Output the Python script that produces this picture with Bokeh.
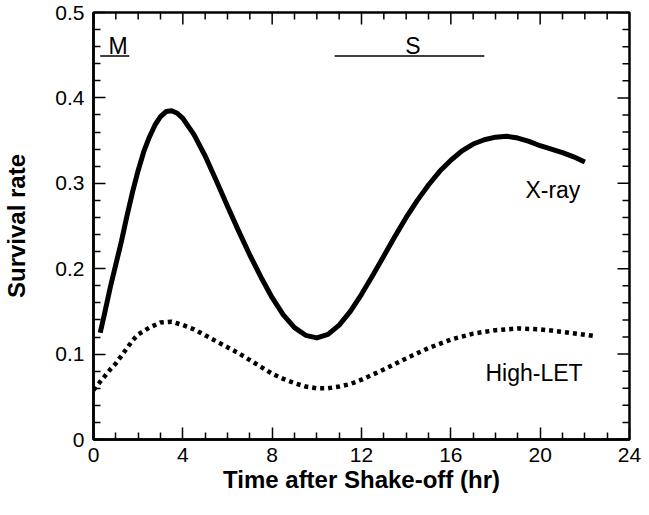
import math
from bokeh.plotting import figure
from bokeh.models import FixedTicker, Range1d
from bokeh.core.properties import value
from bokeh.embed import file_html
from bokeh.resources import INLINE

# ---- data ----
time_xray = [0.3, 0.5, 0.75, 1.0, 1.25, 1.5, 1.75, 2.0, 2.25, 2.5, 2.75, 3.0, 3.25, 3.5,
             3.75, 4.0, 4.5, 5.0, 5.5, 6.0, 6.5, 7.0, 7.5, 8.0, 8.5, 9.0, 9.5, 10.0,
             10.5, 11.0, 11.5, 12.0, 12.5, 13.0, 13.5, 14.0, 14.5, 15.0, 15.5, 16.0,
             16.5, 17.0, 17.5, 18.0, 18.5, 19.0, 19.5, 20.0, 20.5, 21.0, 21.5, 22.0]
surv_xray = [0.125, 0.148, 0.178, 0.205, 0.232, 0.262, 0.290, 0.315, 0.337, 0.354, 0.368,
             0.378, 0.384, 0.385, 0.382, 0.376, 0.357, 0.332, 0.303, 0.273, 0.244, 0.216,
             0.190, 0.166, 0.146, 0.131, 0.122, 0.119, 0.123, 0.134, 0.150, 0.170, 0.192,
             0.215, 0.238, 0.260, 0.280, 0.298, 0.314, 0.327, 0.338, 0.346, 0.351, 0.354,
             0.355, 0.353, 0.349, 0.344, 0.340, 0.336, 0.331, 0.325]

time_let = [0.0, 0.25, 0.5, 0.75, 1.0, 1.25, 1.5, 1.75, 2.0, 2.5, 3.0, 3.5, 4.0, 4.5, 5.0,
            5.5, 6.0, 6.5, 7.0, 7.5, 8.0, 8.5, 9.0, 9.5, 10.0, 10.5, 11.0, 11.5, 12.0,
            13.0, 14.0, 15.0, 16.0, 17.0, 18.0, 19.0, 20.0, 21.0, 22.5]
surv_let = [0.058, 0.066, 0.074, 0.082, 0.089, 0.098, 0.107, 0.116, 0.123, 0.131, 0.137,
            0.138, 0.134, 0.129, 0.122, 0.115, 0.108, 0.101, 0.093, 0.085, 0.077, 0.071,
            0.066, 0.062, 0.060, 0.060, 0.062, 0.065, 0.070, 0.082, 0.095, 0.107, 0.117,
            0.124, 0.128, 0.130, 0.129, 0.126, 0.121]

x_min, x_max = 0, 24
y_min, y_max = 0, 0.5
x_ticks = [0, 4, 8, 12, 16, 20, 24]
x_tick_labels = ["0", "4", "8", "12", "16", "20", "24"]
x_minor_ticks = [1, 2, 3, 5, 6, 7, 9, 10, 11, 13, 14, 15, 17, 18, 19, 21, 22, 23]
y_ticks = [0, 0.1, 0.2, 0.3, 0.4, 0.5]
y_tick_labels = ["0", "0.1", "0.2", "0.3", "0.4", "0.5"]
y_minor_ticks = [0.02, 0.04, 0.06, 0.08, 0.12, 0.14, 0.16, 0.18, 0.22, 0.24, 0.26, 0.28,
                 0.32, 0.34, 0.36, 0.38, 0.42, 0.44, 0.46, 0.48]

phase_names = ["M", "S"]
phase_start = [0.3, 10.8]
phase_end = [1.6, 17.5]
phase_line_y = [0.449, 0.449]
phase_label_x = [1.1, 14.3]
phase_label_y = [0.461, 0.461]

curve_names = ["X-ray", "High-LET"]
curve_label_x = [21.8, 21.9]
curve_label_y = [0.292, 0.078]

FONT = "Liberation Sans"
TICK_FS = "21px"
NOTE_FS = "23px"
LABEL_FS = "24px"

p = figure(width=641, height=499, x_range=Range1d(x_min, x_max), y_range=Range1d(y_min, y_max),
           output_backend="svg", toolbar_location=None,
           min_border_left=89, min_border_right=12, min_border_top=12, min_border_bottom=60)
p.xgrid.visible = False
p.ygrid.visible = False
p.outline_line_color = "black"
p.outline_line_width = 2.5
p.background_fill_color = "white"
p.border_fill_color = "white"

p.xaxis.ticker = FixedTicker(ticks=x_ticks, minor_ticks=x_minor_ticks)
p.yaxis.ticker = FixedTicker(ticks=y_ticks, minor_ticks=y_minor_ticks)

for ax in [p.xaxis[0], p.yaxis[0]]:
    ax.axis_line_width = 2.5
    ax.axis_line_color = "black"
    ax.major_tick_in = 12
    ax.major_tick_out = 0
    ax.minor_tick_in = 7
    ax.minor_tick_out = 0
    ax.major_tick_line_width = 1.5
    ax.minor_tick_line_width = 1.5
    ax.major_tick_line_color = "black"
    ax.minor_tick_line_color = "black"
    ax.major_label_text_font = FONT
    ax.major_label_text_font_size = TICK_FS
    ax.major_label_text_color = "black"
    ax.axis_label_text_font = FONT
    ax.axis_label_text_font_size = LABEL_FS
    ax.axis_label_text_font_style = "bold"
    ax.axis_label_text_color = "black"

p.xaxis[0].major_label_overrides = dict(zip(x_ticks, x_tick_labels))
p.xaxis[0].major_label_standoff = 8
p.xaxis[0].axis_label = "Time after Shake-off (hr)"
p.xaxis[0].axis_label_standoff = 1
p.yaxis[0].major_label_overrides = dict(zip(y_ticks, y_tick_labels))
p.yaxis[0].major_label_standoff = 9
p.yaxis[0].axis_label = "Survival rate"
p.yaxis[0].axis_label_standoff = 22

# ticks on the top and right frame edges (dash markers centred on the edge, clipped by the frame)
p.scatter(x=x_ticks, y=[y_max] * len(x_ticks), marker="dash", size=24, angle=math.pi / 2,
          line_color="black", line_width=1.5)
p.scatter(x=x_minor_ticks, y=[y_max] * len(x_minor_ticks), marker="dash", size=14,
          angle=math.pi / 2, line_color="black", line_width=1.5)
p.scatter(x=[x_max] * len(y_ticks), y=y_ticks, marker="dash", size=24,
          line_color="black", line_width=1.5)
p.scatter(x=[x_max] * len(y_minor_ticks), y=y_minor_ticks, marker="dash", size=14,
          line_color="black", line_width=1.5)

# curves
p.line(time_xray, surv_xray, line_width=5, line_color="black", line_join="round")
p.line(time_let, surv_let, line_width=4.5, line_color="black", line_dash="4 4")

# phase markers
p.segment(x0=phase_start, y0=phase_line_y, x1=phase_end, y1=phase_line_y,
          line_color="black", line_width=1.5)
p.text(x=phase_label_x, y=phase_label_y, text=phase_names, text_font=value(FONT),
       text_font_size=NOTE_FS, text_align="center", text_baseline="alphabetic",
       text_color="black")

# curve labels
p.text(x=curve_label_x, y=curve_label_y, text=curve_names, text_font=value(FONT),
       text_font_size=NOTE_FS, text_align="right", text_baseline="alphabetic",
       text_color="black")

open("out.html", "w").write(file_html(p, INLINE))
